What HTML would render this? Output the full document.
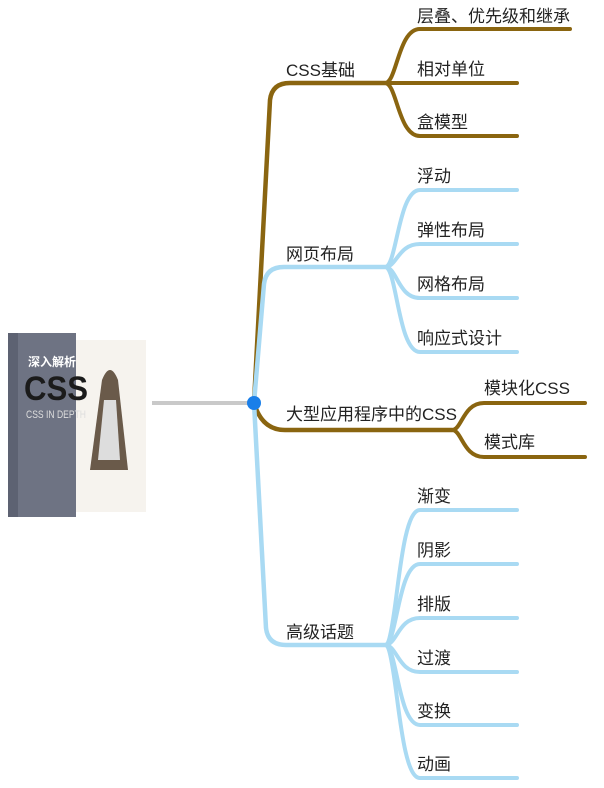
<!DOCTYPE html>
<html><head><meta charset="utf-8"><style>
html,body{margin:0;padding:0;background:#fff;width:604px;height:788px;overflow:hidden}
svg{display:block}
text{font-family:"Liberation Sans","Noto Sans CJK SC",sans-serif;font-size:17px;fill:#222}
</style></head><body>
<svg width="604" height="788" viewBox="0 0 604 788">
<!-- book -->
<rect x="8" y="333" width="68" height="184" fill="#6e7383"/>
<rect x="8" y="333" width="10" height="184" fill="#5d6272"/>
<rect x="76" y="340" width="70" height="172" fill="#f6f3ee"/>
<text x="28" y="366" style="font-size:12px;fill:#fff;font-weight:bold">深入解析</text>
<text x="24" y="400" style="font-size:34px;fill:#1b1b1b;font-weight:bold" textLength="64" lengthAdjust="spacingAndGlyphs">CSS</text>
<text x="26" y="418" style="font-size:11px;fill:#ddd" textLength="60" lengthAdjust="spacingAndGlyphs">CSS IN DEPTH</text>
<path d="M102 380 Q110 360 118 380 L128 470 L90 470 Z" fill="#6a5a4a"/>
<path d="M104 400 L116 400 L120 460 L98 460 Z" fill="#ddd"/>
<line x1="152" y1="403" x2="250" y2="403" stroke="#c9c9c9" stroke-width="4"/>
<g fill="none" stroke-linecap="round">
<g stroke="#8a6510">
<path d="M254 403 L270 100 Q272 83 290 83 L385 83" stroke-width="4.5"/>
<path d="M385 83 C397 83 398 29 420 29 L570 29" stroke-width="4"/>
<path d="M385 83 L517 83" stroke-width="4"/>
<path d="M385 83 C397 83 398 136 420 136 L517 136" stroke-width="4"/>
<path d="M254 403 Q262 430 285 430 L452 430" stroke-width="4.5"/>
<path d="M452 430 C462 430 463 403 484 403 L585 403" stroke-width="4"/>
<path d="M452 430 C462 430 463 457 484 457 L585 457" stroke-width="4"/>
</g>
<g stroke="#a9daf3">
<path d="M254 403 L264 284 Q266 267 284 267 L385 267" stroke-width="4.5"/>
<path d="M385 267 C397 267 398 190 420 190 L517 190" stroke-width="4"/>
<path d="M385 267 C397 267 398 244 420 244 L517 244" stroke-width="4"/>
<path d="M385 267 C397 267 398 298 420 298 L517 298" stroke-width="4"/>
<path d="M385 267 C397 267 398 352 420 352 L517 352" stroke-width="4"/>
<path d="M254 403 L266 628 Q268 645 286 645 L385 645" stroke-width="4.5"/>
<path d="M385 645 C397 645 398 510 420 510 L517 510" stroke-width="4"/>
<path d="M385 645 C397 645 398 564 420 564 L517 564" stroke-width="4"/>
<path d="M385 645 C397 645 398 618 420 618 L517 618" stroke-width="4"/>
<path d="M385 645 C397 645 398 672 420 672 L517 672" stroke-width="4"/>
<path d="M385 645 C397 645 398 725 420 725 L517 725" stroke-width="4"/>
<path d="M385 645 C397 645 398 778 420 778 L517 778" stroke-width="4"/>
</g>
</g>
<circle cx="254" cy="403" r="7" fill="#1a7fe9"/>
<text x="286" y="76">CSS基础</text>
<text x="417" y="22">层叠、优先级和继承</text>
<text x="417" y="75">相对单位</text>
<text x="417" y="128">盒模型</text>
<text x="286" y="260">网页布局</text>
<text x="417" y="182">浮动</text>
<text x="417" y="236">弹性布局</text>
<text x="417" y="290">网格布局</text>
<text x="417" y="344">响应式设计</text>
<text x="286" y="420">大型应用程序中的CSS</text>
<text x="484" y="394">模块化CSS</text>
<text x="484" y="448">模式库</text>
<text x="286" y="638">高级话题</text>
<text x="417" y="502">渐变</text>
<text x="417" y="556">阴影</text>
<text x="417" y="610">排版</text>
<text x="417" y="664">过渡</text>
<text x="417" y="717">变换</text>
<text x="417" y="770">动画</text>
</svg>
</body></html>
